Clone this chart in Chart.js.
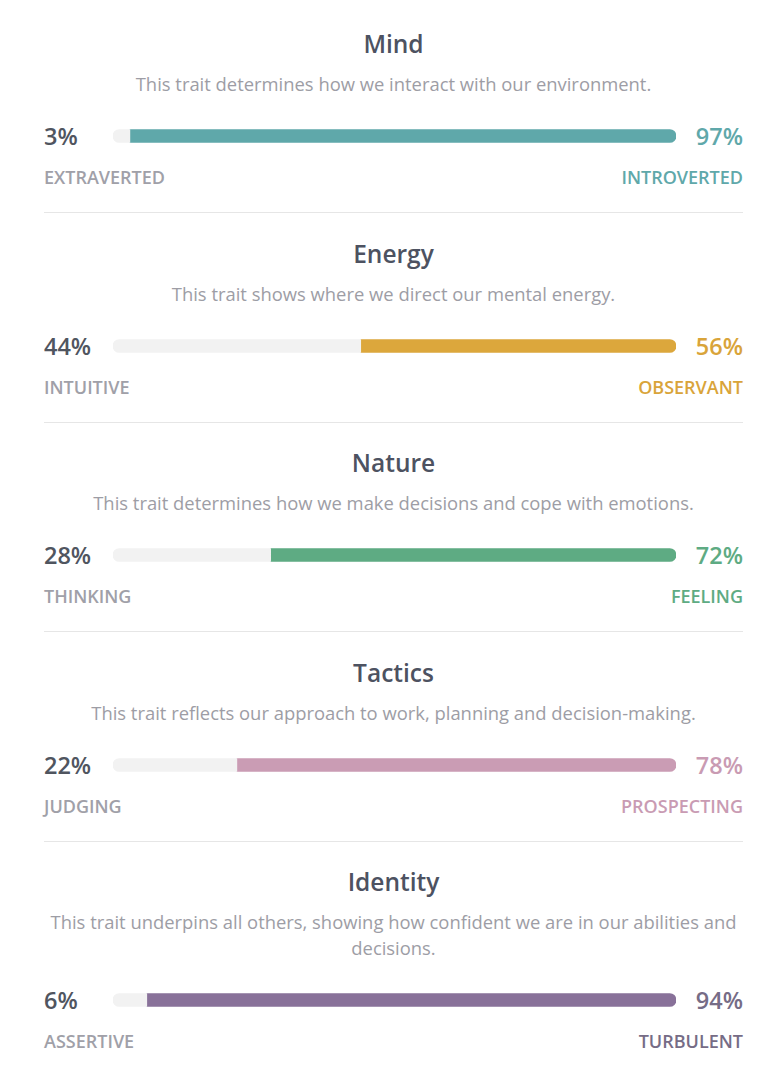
<!DOCTYPE html>
<html>
<head>
<meta charset="utf-8">
<script src="https://cdn.jsdelivr.net/npm/chart.js@4.4.1/dist/chart.umd.min.js"></script>
<style>
  body {
    margin: 0;
    background: #ffffff;
    font-family: "Open Sans", sans-serif;
  }
  #traits {
    width: 699px;
    margin-left: 44px;
  }
  .trait {
    border-bottom: 1px solid #e6e6e6;
    padding-top: 25.6px;
    padding-bottom: 23px;
  }
  .trait:first-child {
    padding-top: 29px;
  }
  .trait:last-child {
    border-bottom: none;
  }
  .title {
    text-align: center;
    font-size: 24.5px;
    font-weight: 600;
    line-height: 30px;
    color: #4d5261;
  }
  .desc {
    text-align: center;
    font-size: 18.4px;
    line-height: 26px;
    color: #9d9da5;
    margin-top: 12px;
  }
  .row {
    display: flex;
    align-items: center;
    height: 30px;
    margin-top: 24px;
  }
  .pct {
    font-size: 23.5px;
    font-weight: 600;
    line-height: 30px;
  }
  .pct.left {
    width: 69px;
    color: #50555f;
  }
  .pct.right {
    width: 67px;
    text-align: right;
  }
  .bar {
    position: relative;
    width: 563px;
    height: 30px;
  }
  .labels {
    display: flex;
    justify-content: space-between;
    margin-top: 14px;
    font-size: 18px;
    font-weight: 600;
    line-height: 24px;
  }
  .labels .left {
    color: #a0a0a8;
  }
</style>
</head>
<body>
<div id="traits"></div>
<script>
// ## TRAIT DATA ##
const traitNames = ["Mind", "Energy", "Nature", "Tactics", "Identity"];
const traitDescriptions = [
  "This trait determines how we interact with our environment.",
  "This trait shows where we direct our mental energy.",
  "This trait determines how we make decisions and cope with emotions.",
  "This trait reflects our approach to work, planning and decision-making.",
  "This trait underpins all others, showing how confident we are in our abilities and decisions.",
];
const leftLabels = ["EXTRAVERTED", "INTUITIVE", "THINKING", "JUDGING", "ASSERTIVE"];
const rightLabels = ["INTROVERTED", "OBSERVANT", "FEELING", "PROSPECTING", "TURBULENT"];
const leftValues = [3, 44, 28, 22, 6];
const rightValues = [97, 56, 72, 78, 94];

const barColors = ["#5fa8aa", "#dca73c", "#5eab83", "#ca9cb4", "#887199"];
const textColors = ["#5fa8aa", "#d9a43a", "#5eab83", "#c99bb3", "#766c86"];
const trackColor = "#f2f2f2";

function createTraitChart(canvas, i) {
  const ctx = canvas.getContext("2d");
  return new Chart(ctx, {
    type: "bar",
    data: {
      labels: [traitNames[i]],
      datasets: [
        {
          label: leftLabels[i],
          data: [leftValues[i]],
          backgroundColor: trackColor,
          borderSkipped: false,
          borderRadius: { topLeft: 7, bottomLeft: 7, topRight: 0, bottomRight: 0 },
          barThickness: 13,
        },
        {
          label: rightLabels[i],
          data: [rightValues[i]],
          backgroundColor: barColors[i],
          borderSkipped: false,
          borderRadius: { topLeft: 0, bottomLeft: 0, topRight: 7, bottomRight: 7 },
          barThickness: 13,
        },
      ],
    },
    options: {
      indexAxis: "y",
      responsive: true,
      maintainAspectRatio: false,
      animation: false,
      layout: { padding: 0 },
      scales: {
        x: { stacked: true, min: 0, max: 100, display: false },
        y: { stacked: true, display: false },
      },
      plugins: {
        legend: { display: false },
        tooltip: { enabled: false },
      },
    },
  });
}

const container = document.getElementById("traits");
traitNames.forEach((name, i) => {
  const section = document.createElement("div");
  section.className = "trait";
  section.innerHTML = `
    <div class="title">${name}</div>
    <div class="desc">${traitDescriptions[i]}</div>
    <div class="row">
      <div class="pct left">${leftValues[i]}%</div>
      <div class="bar"><canvas></canvas></div>
      <div class="pct right" style="color:${textColors[i]}">${rightValues[i]}%</div>
    </div>
    <div class="labels">
      <span class="left">${leftLabels[i]}</span>
      <span class="right" style="color:${textColors[i]}">${rightLabels[i]}</span>
    </div>`;
  container.appendChild(section);
  createTraitChart(section.querySelector("canvas"), i);
});
</script>
</body>
</html>
